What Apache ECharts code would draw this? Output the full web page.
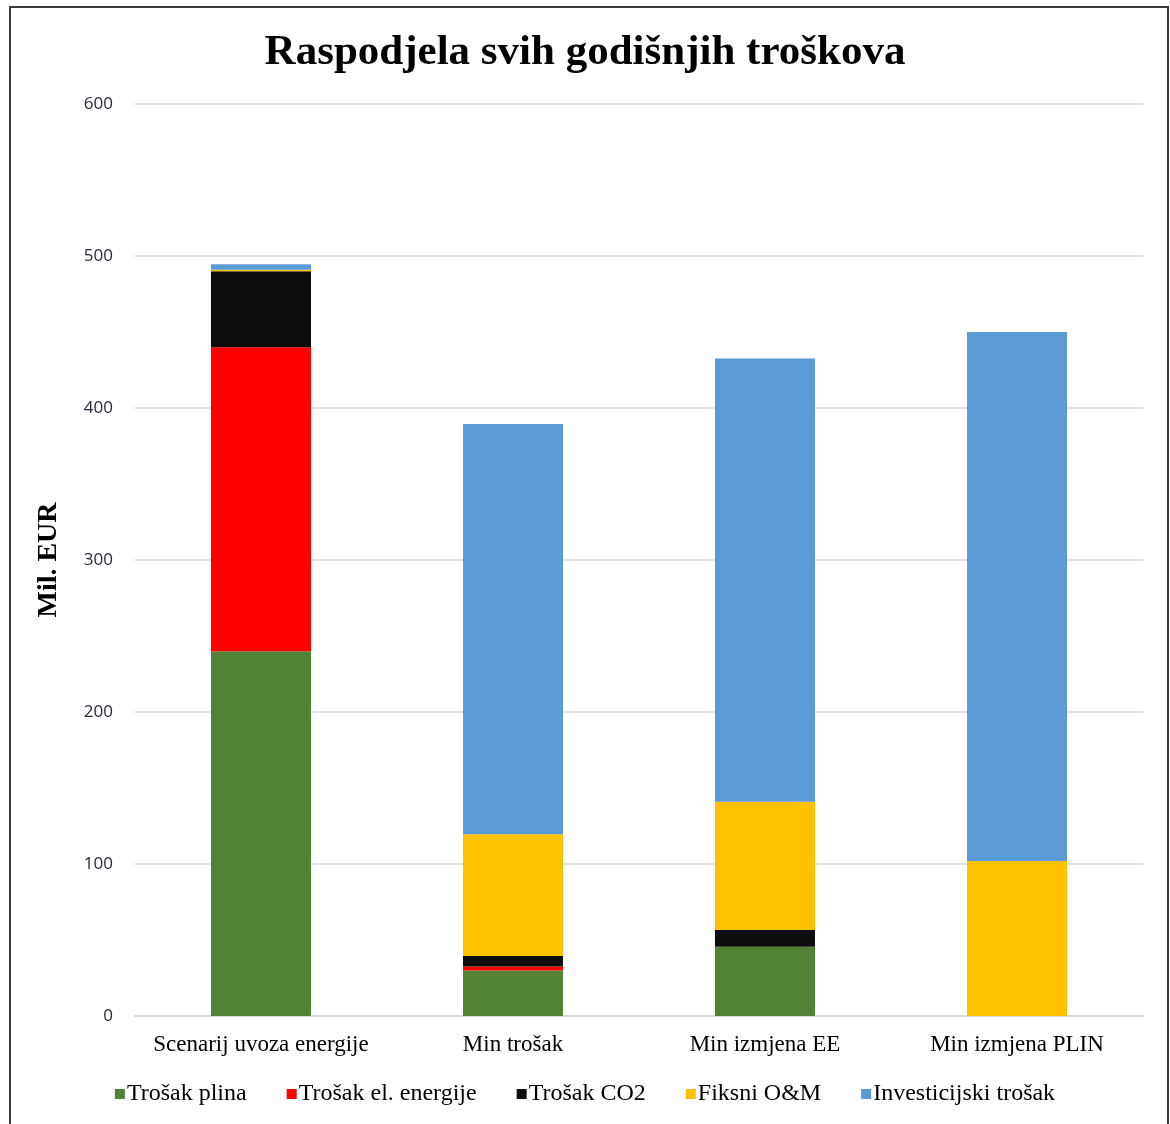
<!DOCTYPE html>
<html>
<head>
<meta charset="utf-8">
<script src="https://cdn.jsdelivr.net/npm/echarts@6/dist/echarts.min.js"></script>
<style>
html,body{margin:0;padding:0;background:#fff;}
#c{width:1170px;height:1124px;}
</style>
</head>
<body>
<div id="c"></div>
<script>
var categories = ['Scenarij uvoza energije', 'Min trošak', 'Min izmjena EE', 'Min izmjena PLIN'];
var seriesNames = ['Trošak plina', 'Trošak el. energije', 'Trošak CO2', 'Fiksni O&M', 'Investicijski trošak'];
var trosakPlina = [240, 30, 45.5, 0];
var trosakElEnergije = [200, 2.5, 0, 0];
var trosakCO2 = [50, 7, 11, 0];
var fiksniOM = [1, 80, 84.5, 102];
var investicijskiTrosak = [3.5, 270, 291.5, 348];
var colors = ['#548235', '#ff0000', '#0d0d0d', '#ffc000', '#5b9bd5'];
var yTicks = [0, 100, 200, 300, 400, 500, 600];

var dataSets = [trosakPlina, trosakElEnergije, trosakCO2, fiksniOM, investicijskiTrosak];
var chart = echarts.init(document.getElementById('c'));
var series = seriesNames.map(function (n, i) {
  return {
    name: n, type: 'bar', stack: 'total', data: dataSets[i],
    barWidth: 100,
    itemStyle: { color: colors[i] }
  };
});
chart.setOption({
  animation: false,
  backgroundColor: '#fff',
  graphic: [{
    type: 'rect', shape: { x: 10, y: 7, width: 1158, height: 1130 },
    style: { fill: 'none', stroke: '#3a3a3a', lineWidth: 2 }, silent: true, z: 100
  }],
  title: {
    text: 'Raspodjela svih godišnjih troškova',
    left: 'center', top: 26,
    textStyle: { fontFamily: 'Liberation Serif', fontWeight: 'bold', fontSize: 43, color: '#000' }
  },
  grid: { left: 135, right: 27, top: 104, bottom: 108, containLabel: false },
  legend: {
    bottom: 13, left: 'center',
    itemWidth: 10, itemHeight: 10, itemGap: 40,
    icon: 'rect',
    textStyle: { fontFamily: 'Liberation Serif', fontSize: 24, color: '#000', padding: [0, 0, 0, -3] },
    data: seriesNames
  },
  xAxis: {
    type: 'category', data: categories,
    axisLine: { lineStyle: { color: '#d9d9d9', width: 2 } },
    axisTick: { show: false },
    axisLabel: { interval: 0, fontFamily: 'Liberation Serif', fontSize: 23, color: '#000', margin: 17 }
  },
  yAxis: {
    type: 'value', min: 0, max: 600, interval: 100,
    name: 'Mil. EUR', nameLocation: 'middle', nameGap: 72, nameRotate: 90,
    nameTextStyle: { fontFamily: 'Liberation Serif', fontWeight: 'bold', fontSize: 28, color: '#000' },
    axisLine: { show: false },
    axisTick: { show: false },
    splitLine: { lineStyle: { color: '#d9d9d9', width: 1.5 } },
    axisLabel: { fontFamily: 'Open Sans', fontSize: 17, color: '#262a3a', margin: 22 }
  },
  series: series
});
</script>
</body>
</html>
